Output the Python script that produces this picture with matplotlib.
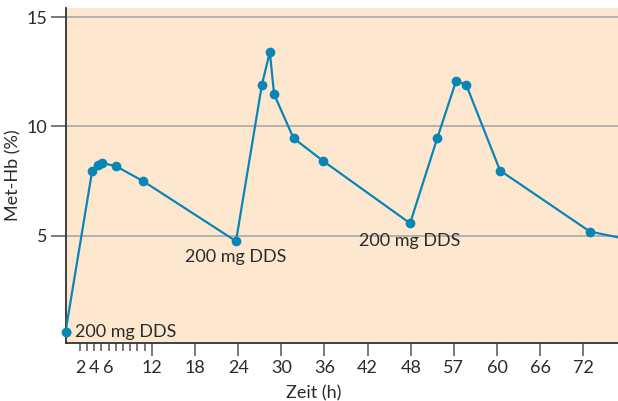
import matplotlib
matplotlib.use("Agg")
import matplotlib.pyplot as plt

# Data (hours, Met-Hb %)
hours = [0, 3.7, 4.5, 5.05, 7.0, 10.8, 23.7, 27.3, 28.4, 29.0, 31.7, 35.8,
         47.9, 51.7, 54.3, 55.7, 60.4, 72.9, 77.5]
methb = [0.58, 7.95, 8.24, 8.33, 8.18, 7.49, 4.74, 11.91, 13.41, 11.47, 9.46,
         8.42, 5.56, 9.49, 12.09, 11.91, 7.98, 5.18, 4.87]
major_ticks = [12, 18, 24, 30, 36, 42, 48, 54, 60, 66, 72]
major_labels = ["12", "18", "24", "30", "36", "42", "48", "57", "60", "66", "72"]
minor_ticks = [2, 3, 4, 5, 6, 7, 8, 9, 10, 11]
minor_labels = ["2", "", "4", "", "6", "", "", "", "", ""]
y_ticks = [5, 10, 15]
annotations = [("200 mg DDS", 1.35, 0.58), ("200 mg DDS", 16.6, 4.0), ("200 mg DDS", 40.8, 4.74)]

plt.rcParams['font.family'] = ['Lato', 'DejaVu Sans']
FS = 13

fig = plt.figure(figsize=(6.18, 4.01), dpi=100)
ax = fig.add_axes([0.106, 0.144, 0.894, 0.836])
ax.set_facecolor('#fde8cf')

ax.set_xlim(0, 76.8)
ax.set_ylim(0.06, 15.43)

for y in y_ticks:
    ax.axhline(y, color='#a8a8a8', lw=1.2, zorder=1)

line_color = '#0a86b6'
ax.plot(hours, methb, color=line_color, lw=1.6, marker='o', ms=6,
        markevery=list(range(len(hours) - 1)), zorder=3, clip_on=True)
ax.plot(hours[:1], methb[:1], 'o', color=line_color, ms=6, clip_on=False, zorder=4)

for txt, x, y in annotations:
    ax.text(x, y, txt, fontsize=FS, color='#2b2b2b', va='center', ha='left', zorder=5)

ax.set_xticks(major_ticks, major_labels)
ax.set_xticks(minor_ticks, minor_labels, minor=True)
ax.set_yticks(y_ticks, [str(v) for v in y_ticks])

for s in ['top', 'right']:
    ax.spines[s].set_visible(False)
for s in ['left', 'bottom']:
    ax.spines[s].set_color('#333333')
    ax.spines[s].set_linewidth(1.3)

ax.tick_params(axis='x', which='major', length=9, width=1.1, color='#555555',
               labelsize=FS, labelcolor='#2b2b2b', pad=3)
ax.tick_params(axis='x', which='minor', length=6, width=1.1, color='#555555',
               labelsize=FS, labelcolor='#2b2b2b', pad=6)
ax.tick_params(axis='y', which='major', length=11, width=1.1, color='#555555',
               labelsize=FS, labelcolor='#2b2b2b', pad=2)

ax.set_xlabel('Zeit (h)', fontsize=FS, color='#2b2b2b')
ax.set_ylabel('Met-Hb (%)', fontsize=FS, color='#2b2b2b', labelpad=4)
ax.xaxis.set_label_coords(0.45, -0.125)

fig.savefig('out.png', dpi=100, facecolor='white')
